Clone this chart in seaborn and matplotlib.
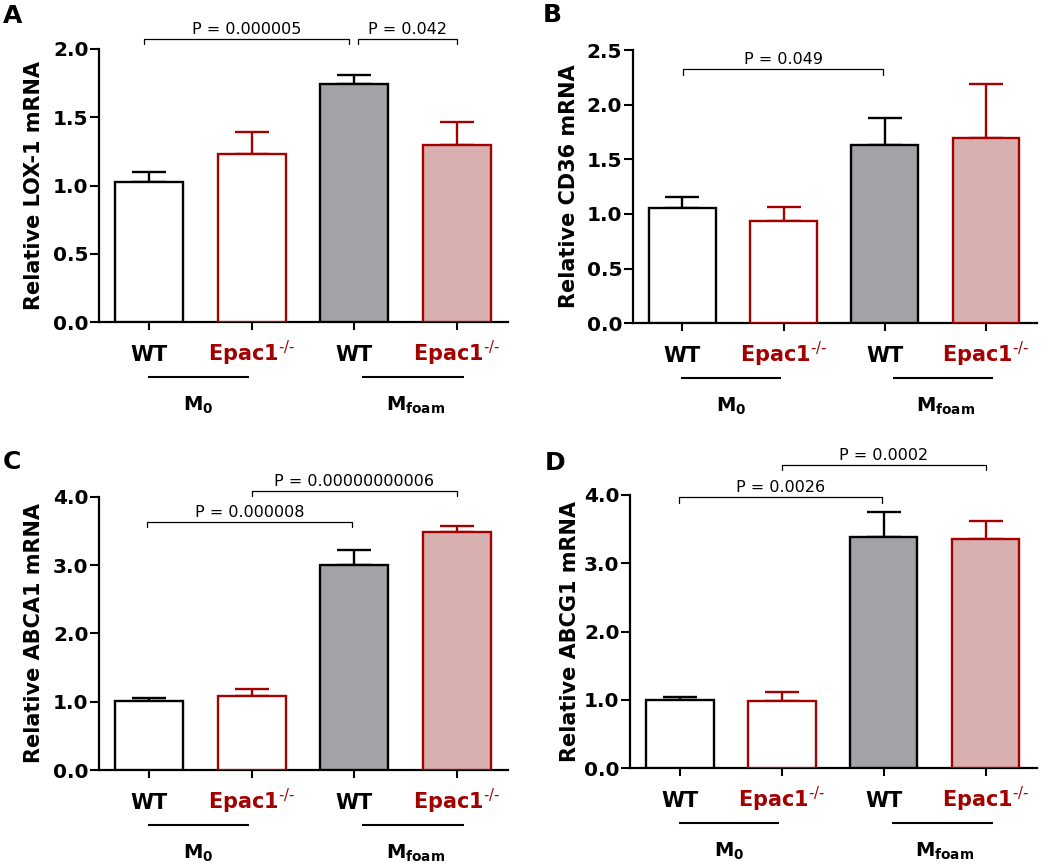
import numpy as np
import pandas as pd
import matplotlib
matplotlib.use("Agg")
import matplotlib.pyplot as plt
import matplotlib.transforms as mtransforms
import seaborn as sns

# ---------------- data ----------------
groups = ["WT M0", "Epac1 M0", "WT Mfoam", "Epac1 Mfoam"]
xlabels = ["WT", r"$\mathbf{Epac1}^{\text{-/-}}$", "WT", r"$\mathbf{Epac1}^{\text{-/-}}$"]
group_names = [r"$\mathbf{M_0}$", r"$\mathbf{M_{foam}}$"]

lox1_mean = [1.026, 1.231, 1.744, 1.294]
lox1_sem = [0.073, 0.159, 0.068, 0.169]
cd36_mean = [1.052, 0.939, 1.631, 1.692]
cd36_sem = [0.100, 0.122, 0.244, 0.494]
abca1_mean = [1.010, 1.083, 2.995, 3.478]
abca1_sem = [0.049, 0.097, 0.225, 0.093]
abcg1_mean = [1.000, 0.980, 3.385, 3.356]
abcg1_sem = [0.039, 0.132, 0.371, 0.268]

ylabels = ["Relative LOX-1 mRNA", "Relative CD36 mRNA",
           "Relative ABCA1 mRNA", "Relative ABCG1 mRNA"]
panel_letters = ["A", "B", "C", "D"]

# brackets: (x1, x2, y, text)
brackets_a = [(-0.05, 1.95, 2.073, "P = 0.000005"), (2.04, 3.0, 2.073, "P = 0.042")]
brackets_b = [(0.01, 1.98, 2.323, "P = 0.049")]
brackets_c = [(-0.02, 1.98, 3.634, "P = 0.000008"), (1.0, 3.0, 4.088, "P = 0.00000000006")]
brackets_d = [(-0.01, 1.98, 3.966, "P = 0.0026"), (1.0, 3.0, 4.439, "P = 0.0002")]

yticks_a = [0.0, 0.5, 1.0, 1.5, 2.0]
yticks_b = [0.0, 0.5, 1.0, 1.5, 2.0, 2.5]
yticks_c = [0.0, 1.0, 2.0, 3.0, 4.0]
yticks_d = [0.0, 1.0, 2.0, 3.0, 4.0]

# ---------------- style ----------------
RED = "#A50000"
fills = ["#FFFFFF", "#FFFFFF", "#A3A2A7", "#D8B0B0"]
edges = ["#000000", RED, "#000000", RED]
label_colors = ["#000000", RED, "#000000", RED]

sns.set_style("ticks")
plt.rcParams["font.family"] = ["DejaVu Sans"]
plt.rcParams["mathtext.fontset"] = "dejavusans"
for key in ["text.color", "axes.labelcolor", "xtick.color", "ytick.color", "axes.edgecolor"]:
    plt.rcParams[key] = "black"

W, H = 1050, 866
fig = plt.figure(figsize=(W / 100, H / 100), dpi=100)

# axes rectangles in pixels: (left, top, right, bottom)
rects = [(99, 49, 508, 322), (632.7, 50, 1036.7, 323.3),
         (99, 496.7, 508, 770), (630, 495, 1036.7, 768.3)]
ylabel_x = [-0.159, -0.158, -0.159, -0.148]
letter_pos = [(3, 22.7), (543, 22.3), (3, 469), (545, 470)]

datasets = [(lox1_mean, lox1_sem, yticks_a, brackets_a),
            (cd36_mean, cd36_sem, yticks_b, brackets_b),
            (abca1_mean, abca1_sem, yticks_c, brackets_c),
            (abcg1_mean, abcg1_sem, yticks_d, brackets_d)]

for k, ((means, sems, yticks, brackets), rect) in enumerate(zip(datasets, rects)):
    l, t, r, b = rect
    ax = fig.add_axes([l / W, 1 - b / H, (r - l) / W, (b - t) / H])
    df = pd.DataFrame({"group": groups, "value": means})
    sns.barplot(data=df, x="group", y="value", hue="group",
                palette=dict(zip(groups, fills)), width=0.66, ax=ax,
                legend=False, errorbar=None, linewidth=1.7, saturation=1)
    for patch, ec in zip(ax.patches, edges):
        patch.set_edgecolor(ec)
        patch.set_linewidth(1.7)
        patch.set_zorder(3)
    for i in range(len(means)):
        ax.errorbar(i, means[i], yerr=[[0], [sems[i]]], fmt="none",
                    ecolor=edges[i], elinewidth=1.7, capsize=12, capthick=1.7,
                    clip_on=False, zorder=2)
    ymax = yticks[-1]
    ax.set_ylim(0, ymax)
    ax.set_xlim(-0.49, 3.5)
    ax.set_yticks(yticks)
    ax.set_yticklabels([f"{v:.1f}" for v in yticks], fontweight="bold", fontsize=14.5)
    ax.set_xticks(range(4))
    ax.set_xticklabels([])
    ax.set_xlabel("")
    ax.set_ylabel(ylabels[k], fontsize=15, fontweight="bold", va="center")
    ax.yaxis.set_label_coords(ylabel_x[k], 0.5)
    ax.tick_params(axis="y", length=6.5, width=1.5, pad=1, direction="out")
    ax.tick_params(axis="x", length=5.5, width=1.5, direction="out")
    for s in ["top", "right"]:
        ax.spines[s].set_visible(False)
    for s in ["left", "bottom"]:
        ax.spines[s].set_linewidth(1.6)
    ax.patch.set_alpha(0)

    trans = mtransforms.blended_transform_factory(ax.transData, ax.transAxes)
    # category labels
    for i, (lab, col) in enumerate(zip(xlabels, label_colors)):
        ax.text(i, -0.143, lab, transform=trans, ha="center", va="baseline",
                fontsize=15, fontweight="bold", color=col)
    # group underlines
    for (x1, x2) in [(-0.01, 0.97), (2.08, 3.07)]:
        ax.plot([x1, x2], [-0.2015, -0.2015], transform=trans, color="black",
                lw=1.5, clip_on=False, solid_capstyle="butt")
    for xc, name in zip([0.48, 2.6], group_names):
        ax.text(xc, -0.325, name, transform=trans, ha="center", va="baseline",
                fontsize=14, color="black")
    # significance brackets
    drop = 0.02 * ymax
    for (x1, x2, y, txt) in brackets:
        ax.plot([x1, x1, x2, x2], [y - drop, y, y, y - drop], color="black",
                lw=0.9, clip_on=False)
        ax.annotate(txt, xy=((x1 + x2) / 2, y), xytext=(0, 1.5),
                    textcoords="offset points", ha="center", va="bottom",
                    fontsize=11.5, annotation_clip=False)
    lx, ly = letter_pos[k]
    fig.text(lx / W, 1 - ly / H, panel_letters[k], fontsize=18,
             fontweight="bold", ha="left", va="baseline")

fig.savefig("out.png", dpi=100, facecolor="white")
